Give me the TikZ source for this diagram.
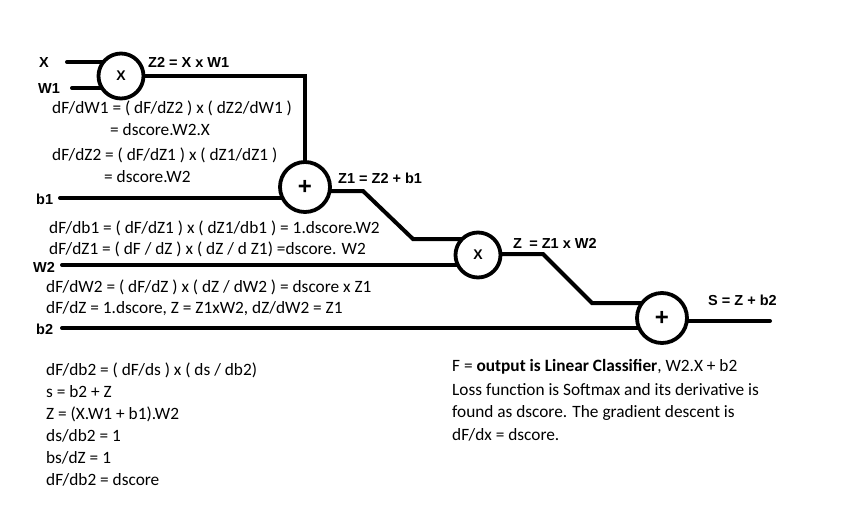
\documentclass[tikz,border=0pt]{standalone}
\usepackage{fontspec}
\setmainfont{Carlito}
\newfontfamily\labfont{Liberation Sans}
\usetikzlibrary{backgrounds}
\tikzset{
  wire/.style={line width=4pt, line cap=round, line join=miter},
  gate/.style={circle, draw, fill=white, line width=3.8pt, minimum size=45pt, inner sep=0pt, font=\labfont\bfseries\fontsize{14}{16}\selectfont},
  bigop/.style={gate, minimum size=50pt, font=\labfont\bfseries\fontsize{24}{26}\selectfont},
  lab/.style={anchor=west, inner sep=0pt, font=\labfont\bfseries\fontsize{14.5}{16}\selectfont},
  txt/.style={anchor=west, inner sep=0pt, font=\fontsize{17.3}{20}\selectfont},
}
\begin{document}
\begin{tikzpicture}[x=1pt,y=-1pt]
\useasboundingbox (0,0) rectangle (841,507);
% gates
\node[gate] (m1) at (121,76) {X};
\node[bigop] (p1) at (305,187) {+};
\node[gate] (m2) at (478,255) {X};
\node[bigop] (p2) at (662,318) {+};
% free ends
\coordinate (xin) at (67,62);
\coordinate (w1in) at (72,88);
\coordinate (b1in) at (60,198);
\coordinate (w2in) at (62,265);
\coordinate (b2in) at (62,328);
\coordinate (k1) at (363,191);
\coordinate (k2) at (413,239);
\coordinate (k3) at (543,254);
\coordinate (k4) at (592,303);
\coordinate (sout) at (770,321);
\begin{scope}[on background layer]
\draw[wire] (xin) -- (xin -| m1);
\draw[wire] (w1in) -- (w1in -| m1);
\draw[wire] (m1.center) -- (m1 -| p1) -- (p1.center);
\draw[wire] (b1in) -- (b1in -| p1);
\draw[wire] (p1 |- k1) -- (k1) -- (k2) -- (k2 -| m2);
\draw[wire] (w2in) -- (w2in -| m2);
\draw[wire] (m2 |- k3) -- (k3) -- (k4) -- (k4 -| p2);
\draw[wire] (b2in) -- (b2in -| p2);
\draw[wire] (p2 |- sout) -- (sout);
\end{scope}
% input labels
\node[lab] (lx) at (39,63) {X};
\node[lab] (lw1) at (38,89) {W1};
\node[lab] (lb1) at (36,199) {b1};
\node[lab] (lw2) at (33,267) {W2};
\node[lab] (lb2) at (36,329) {b2};
% output labels
\node[lab] (lz2) at (148,62) {Z2 = X x W1};
\node[lab] (lz1) at (338,178) {Z1 = Z2 + b1};
\node[lab] (lz) at (513,243) {Z\enspace= Z1 x W2};
\node[lab] (ls) at (708,300) {S = Z + b2};
% derivative texts
\node[txt] (t1) at (52,108) {dF/dW1 = ( dF/dZ2 ) x ( dZ2/dW1 )};
\node[txt] (t2) at (110,130) {= dscore.W2.X};
\node[txt] (t3) at (52,155) {dF/dZ2 = ( dF/dZ1 ) x ( dZ1/dZ1 )};
\node[txt] (t4) at (104,177) {= dscore.W2};
\node[txt] (t5) at (49,228) {dF/db1 = ( dF/dZ1 ) x ( dZ1/db1 ) = 1.dscore.W2};
\node[txt] (t6) at (49,249) {dF/dZ1 = ( dF / dZ ) x ( dZ / d Z1) =dscore. W2};
\node[txt] (t7) at (46,287) {dF/dW2 = ( dF/dZ ) x ( dZ / dW2 ) = dscore x Z1};
\node[txt] (t8) at (46,309) {dF/dZ = 1.dscore, Z = Z1xW2, dZ/dW2 = Z1};
% bottom left block
\node[txt] (u1) at (46,370) {dF/db2 = ( dF/ds ) x ( ds / db2)};
\node[txt] (u2) at (46,392) {s = b2 + Z};
\node[txt] (u3) at (46,414) {Z = (X.W1 + b1).W2};
\node[txt] (u4) at (46,436) {ds/db2 = 1};
\node[txt] (u5) at (46,458) {bs/dZ = 1};
\node[txt] (u6) at (46,480) {dF/db2 = dscore};
% bottom right block
\node[txt] (v1) at (452,367) {F = \textbf{output is Linear Classifier}, W2.X + b2};
\node[txt] (v2) at (452,390) {Loss function is Softmax and its derivative is};
\node[txt] (v3) at (452,413) {found as dscore. The gradient descent is};
\node[txt] (v4) at (452,435) {dF/dx = dscore.};
\end{tikzpicture}
\end{document}
